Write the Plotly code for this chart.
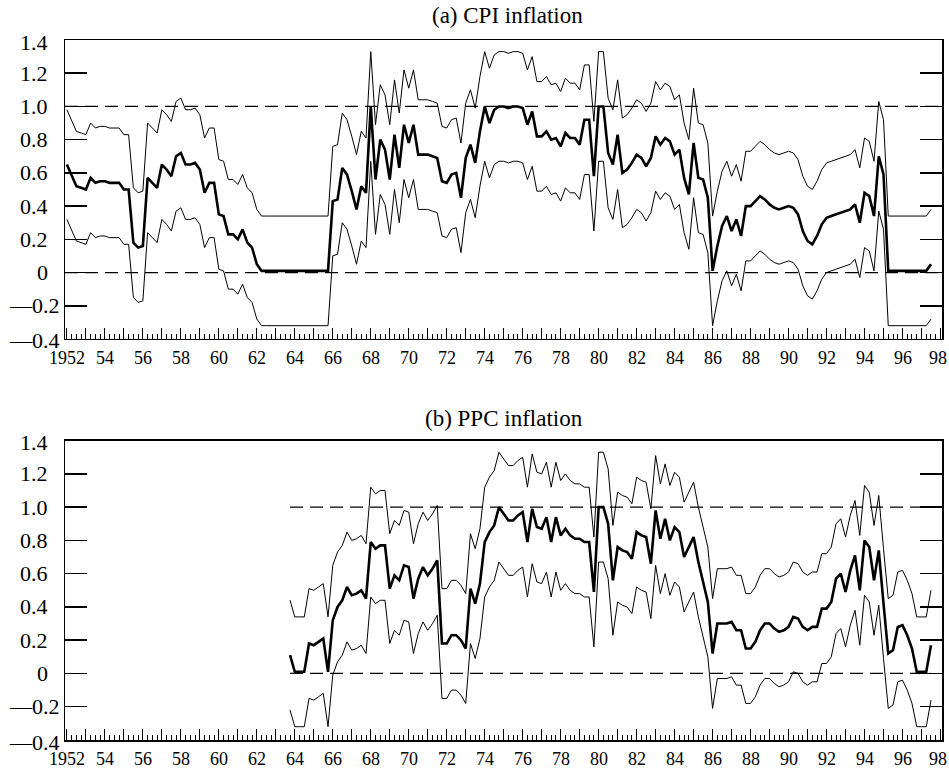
import plotly.graph_objects as go

# ---------------- data (quarterly) ----------------
top_start = 1952.0          # first quarter of panel (a)
bottom_start = 1963.75      # first quarter of panel (b)

top_mid = [
    0.65, 0.59, 0.52, 0.51, 0.50, 0.57, 0.54, 0.55, 0.55, 0.54,
    0.54, 0.54, 0.50, 0.50, 0.18, 0.15, 0.16, 0.57, 0.54, 0.51,
    0.65, 0.62, 0.58, 0.70, 0.72, 0.65, 0.65, 0.66, 0.62, 0.48,
    0.54, 0.54, 0.35, 0.34, 0.23, 0.23, 0.20, 0.26, 0.18, 0.15,
    0.05, 0.01, 0.01, 0.01, 0.01, 0.01, 0.01, 0.01, 0.01, 0.01,
    0.01, 0.01, 0.01, 0.01, 0.01, 0.01, 0.43, 0.44, 0.63, 0.59,
    0.49, 0.38, 0.52, 0.48, 1.00, 0.56, 0.80, 0.74, 0.56, 0.83,
    0.63, 0.89, 0.78, 0.89, 0.71, 0.71, 0.71, 0.70, 0.69, 0.55,
    0.54, 0.59, 0.60, 0.45, 0.69, 0.77, 0.66, 0.85, 1.00, 0.90,
    0.98, 1.00, 1.00, 0.99, 1.00, 1.00, 0.99, 0.89, 0.97, 0.82,
    0.82, 0.85, 0.80, 0.81, 0.76, 0.84, 0.81, 0.81, 0.77, 0.92,
    0.92, 0.58, 1.00, 1.00, 0.72, 0.65, 0.83, 0.60, 0.62, 0.66,
    0.71, 0.69, 0.64, 0.69, 0.82, 0.77, 0.81, 0.79, 0.71, 0.74,
    0.57, 0.47, 0.78, 0.57, 0.56, 0.45, 0.01, 0.16, 0.28, 0.34,
    0.25, 0.32, 0.22, 0.40, 0.40, 0.43, 0.46, 0.44, 0.41, 0.39,
    0.38, 0.39, 0.40, 0.39, 0.35, 0.25, 0.19, 0.17, 0.22, 0.29,
    0.33, 0.34, 0.35, 0.36, 0.37, 0.38, 0.41, 0.30, 0.48, 0.46,
    0.34, 0.70, 0.59, 0.01, 0.01, 0.01, 0.01, 0.01, 0.01, 0.01,
    0.01, 0.01, 0.05,
]

top_upper = [
    0.98, 0.92, 0.85, 0.84, 0.83, 0.90, 0.87, 0.88, 0.88, 0.87,
    0.87, 0.87, 0.83, 0.83, 0.51, 0.48, 0.49, 0.90, 0.87, 0.84,
    0.98, 0.95, 0.91, 1.03, 1.05, 0.98, 0.98, 0.99, 0.95, 0.81,
    0.87, 0.87, 0.68, 0.67, 0.56, 0.56, 0.53, 0.59, 0.51, 0.48,
    0.38, 0.34, 0.34, 0.34, 0.34, 0.34, 0.34, 0.34, 0.34, 0.34,
    0.34, 0.34, 0.34, 0.34, 0.34, 0.34, 0.76, 0.77, 0.96, 0.92,
    0.82, 0.71, 0.85, 0.81, 1.33, 0.89, 1.13, 1.07, 0.89, 1.16,
    0.96, 1.22, 1.11, 1.22, 1.04, 1.04, 1.04, 1.03, 1.02, 0.88,
    0.87, 0.92, 0.93, 0.78, 1.02, 1.10, 0.99, 1.18, 1.33, 1.23,
    1.31, 1.33, 1.33, 1.32, 1.33, 1.33, 1.32, 1.22, 1.30, 1.15,
    1.15, 1.18, 1.13, 1.14, 1.09, 1.17, 1.14, 1.14, 1.10, 1.25,
    1.25, 0.91, 1.33, 1.33, 1.05, 0.98, 1.16, 0.93, 0.95, 0.99,
    1.04, 1.02, 0.97, 1.02, 1.15, 1.10, 1.14, 1.12, 1.04, 1.07,
    0.90, 0.80, 1.11, 0.90, 0.89, 0.78, 0.34, 0.49, 0.61, 0.67,
    0.58, 0.65, 0.55, 0.73, 0.73, 0.76, 0.79, 0.77, 0.74, 0.72,
    0.71, 0.72, 0.73, 0.72, 0.68, 0.58, 0.52, 0.50, 0.55, 0.62,
    0.66, 0.67, 0.68, 0.69, 0.70, 0.71, 0.74, 0.63, 0.81, 0.79,
    0.67, 1.03, 0.92, 0.34, 0.34, 0.34, 0.34, 0.34, 0.34, 0.34,
    0.34, 0.34, 0.38,
]

top_lower = [
    0.32, 0.26, 0.19, 0.18, 0.17, 0.24, 0.21, 0.22, 0.22, 0.21,
    0.21, 0.21, 0.17, 0.17, -0.15, -0.18, -0.17, 0.24, 0.21, 0.18,
    0.32, 0.29, 0.25, 0.37, 0.39, 0.32, 0.32, 0.33, 0.29, 0.15,
    0.21, 0.21, 0.02, 0.01, -0.10, -0.10, -0.13, -0.07, -0.15, -0.18,
    -0.28, -0.32, -0.32, -0.32, -0.32, -0.32, -0.32, -0.32, -0.32, -0.32,
    -0.32, -0.32, -0.32, -0.32, -0.32, -0.32, 0.10, 0.11, 0.30, 0.26,
    0.16, 0.05, 0.19, 0.15, 0.67, 0.23, 0.47, 0.41, 0.23, 0.50,
    0.30, 0.56, 0.45, 0.56, 0.38, 0.38, 0.38, 0.37, 0.36, 0.22,
    0.21, 0.26, 0.27, 0.12, 0.36, 0.44, 0.33, 0.52, 0.67, 0.57,
    0.65, 0.67, 0.67, 0.66, 0.67, 0.67, 0.66, 0.56, 0.64, 0.49,
    0.49, 0.52, 0.47, 0.48, 0.43, 0.51, 0.48, 0.48, 0.44, 0.59,
    0.59, 0.25, 0.67, 0.67, 0.39, 0.32, 0.50, 0.27, 0.29, 0.33,
    0.38, 0.36, 0.31, 0.36, 0.49, 0.44, 0.48, 0.46, 0.38, 0.41,
    0.24, 0.14, 0.45, 0.24, 0.23, 0.12, -0.32, -0.17, -0.05, 0.01,
    -0.08, -0.01, -0.11, 0.07, 0.07, 0.10, 0.13, 0.11, 0.08, 0.06,
    0.05, 0.06, 0.07, 0.06, 0.02, -0.08, -0.14, -0.16, -0.11, -0.04,
    0.00, 0.01, 0.02, 0.03, 0.04, 0.05, 0.08, -0.03, 0.15, 0.13,
    0.01, 0.37, 0.26, -0.32, -0.32, -0.32, -0.32, -0.32, -0.32, -0.32,
    -0.32, -0.32, -0.28,
]

bottom_mid = [
    0.11, 0.01, 0.01, 0.01, 0.18, 0.17, 0.19, 0.21, 0.01, 0.32,
    0.40, 0.44, 0.52, 0.47, 0.48, 0.50, 0.45, 0.79, 0.75, 0.77,
    0.77, 0.51, 0.59, 0.56, 0.65, 0.64, 0.45, 0.57, 0.64, 0.59,
    0.63, 0.68, 0.18, 0.18, 0.23, 0.23, 0.20, 0.15, 0.51, 0.42,
    0.54, 0.79, 0.85, 0.89, 1.00, 0.96, 0.92, 0.92, 0.95, 0.97,
    0.79, 0.99, 0.88, 0.87, 0.94, 0.79, 0.94, 0.83, 0.87, 0.83,
    0.81, 0.81, 0.79, 0.79, 0.49, 1.00, 1.00, 0.90, 0.56, 0.76,
    0.74, 0.73, 0.69, 0.85, 0.83, 0.82, 0.66, 0.98, 0.81, 0.93,
    0.80, 0.88, 0.85, 0.70, 0.76, 0.82, 0.67, 0.55, 0.43, 0.12,
    0.30, 0.30, 0.30, 0.31, 0.26, 0.26, 0.15, 0.15, 0.19, 0.26,
    0.30, 0.30, 0.27, 0.25, 0.26, 0.28, 0.34, 0.33, 0.28, 0.26,
    0.28, 0.28, 0.39, 0.39, 0.43, 0.57, 0.60, 0.49, 0.62, 0.71,
    0.50, 0.80, 0.76, 0.56, 0.74, 0.42, 0.12, 0.14, 0.28, 0.29,
    0.23, 0.15, 0.01, 0.01, 0.01, 0.17,
]

bottom_upper = [
    0.44, 0.34, 0.34, 0.34, 0.51, 0.50, 0.52, 0.54, 0.34, 0.65,
    0.73, 0.77, 0.85, 0.80, 0.81, 0.83, 0.78, 1.12, 1.08, 1.10,
    1.10, 0.84, 0.92, 0.89, 0.98, 0.97, 0.78, 0.90, 0.97, 0.92,
    0.96, 1.01, 0.51, 0.51, 0.56, 0.56, 0.53, 0.48, 0.84, 0.75,
    0.87, 1.12, 1.18, 1.22, 1.33, 1.29, 1.25, 1.25, 1.28, 1.30,
    1.12, 1.32, 1.21, 1.20, 1.27, 1.12, 1.27, 1.16, 1.20, 1.16,
    1.14, 1.14, 1.12, 1.12, 0.82, 1.33, 1.33, 1.23, 0.89, 1.09,
    1.07, 1.06, 1.02, 1.18, 1.16, 1.15, 0.99, 1.31, 1.14, 1.26,
    1.13, 1.21, 1.18, 1.03, 1.09, 1.15, 1.00, 0.88, 0.76, 0.45,
    0.63, 0.63, 0.63, 0.64, 0.59, 0.59, 0.48, 0.48, 0.52, 0.59,
    0.63, 0.63, 0.60, 0.58, 0.59, 0.61, 0.67, 0.66, 0.61, 0.59,
    0.61, 0.61, 0.72, 0.72, 0.76, 0.90, 0.93, 0.82, 0.95, 1.04,
    0.83, 1.13, 1.09, 0.89, 1.07, 0.75, 0.45, 0.47, 0.61, 0.62,
    0.56, 0.48, 0.34, 0.34, 0.34, 0.50,
]

bottom_lower = [
    -0.22, -0.32, -0.32, -0.32, -0.15, -0.16, -0.14, -0.12, -0.32, -0.01,
    0.07, 0.11, 0.19, 0.14, 0.15, 0.17, 0.12, 0.46, 0.42, 0.44,
    0.44, 0.18, 0.26, 0.23, 0.32, 0.31, 0.12, 0.24, 0.31, 0.26,
    0.30, 0.35, -0.15, -0.15, -0.10, -0.10, -0.13, -0.18, 0.18, 0.09,
    0.21, 0.46, 0.52, 0.56, 0.67, 0.63, 0.59, 0.59, 0.62, 0.64,
    0.46, 0.66, 0.55, 0.54, 0.61, 0.46, 0.61, 0.50, 0.54, 0.50,
    0.48, 0.48, 0.46, 0.46, 0.16, 0.67, 0.67, 0.57, 0.23, 0.43,
    0.41, 0.40, 0.36, 0.52, 0.50, 0.49, 0.33, 0.65, 0.48, 0.60,
    0.47, 0.55, 0.52, 0.37, 0.43, 0.49, 0.34, 0.22, 0.10, -0.21,
    -0.03, -0.03, -0.03, -0.02, -0.07, -0.07, -0.18, -0.18, -0.14, -0.07,
    -0.03, -0.03, -0.06, -0.08, -0.07, -0.05, 0.01, 0.00, -0.05, -0.07,
    -0.05, -0.05, 0.06, 0.06, 0.10, 0.24, 0.27, 0.16, 0.29, 0.38,
    0.17, 0.47, 0.43, 0.23, 0.41, 0.09, -0.21, -0.19, -0.05, -0.04,
    -0.10, -0.18, -0.32, -0.32, -0.32, -0.16,
]

ref_levels = [0.0, 1.0]
titles = ["(a) CPI inflation", "(b) PPC inflation"]
year_ticks = list(range(1952, 1999))
label_years = list(range(1952, 1999, 2))
label_texts = ["1952" if y == 1952 else f"{y % 100:02d}" for y in label_years]
y_ticks = [-0.4, -0.2, 0, 0.2, 0.4, 0.6, 0.8, 1.0, 1.2, 1.4]
y_labels = ["\u20140.4", "\u20140.2", "0", "0.2", "0.4", "0.6", "0.8", "1.0", "1.2", "1.4"]
x_range = [1951.9, 1998.08]

top_x = [top_start + i / 4 for i in range(len(top_mid))]
bottom_x = [bottom_start + i / 4 for i in range(len(bottom_mid))]

FONT = "Liberation Serif"
fig = go.Figure()

panels = [
    (top_x, top_mid, top_upper, top_lower, "x", "y", x_range),
    (bottom_x, bottom_mid, bottom_upper, bottom_lower, "x2", "y2", [bottom_x[0], bottom_x[-1]]),
]
for xs, mid, up, lo, xa, ya, ref_span in panels:
    for lvl in ref_levels:
        fig.add_trace(go.Scatter(x=ref_span, y=[lvl, lvl], mode="lines", xaxis=xa, yaxis=ya,
                                 line=dict(color="black", width=1.2, dash="13px,7px"),
                                 showlegend=False, hoverinfo="skip"))
    fig.add_trace(go.Scatter(x=xs, y=up, mode="lines", xaxis=xa, yaxis=ya,
                             line=dict(color="black", width=1), showlegend=False))
    fig.add_trace(go.Scatter(x=xs, y=lo, mode="lines", xaxis=xa, yaxis=ya,
                             line=dict(color="black", width=1), showlegend=False))
    fig.add_trace(go.Scatter(x=xs, y=mid, mode="lines", xaxis=xa, yaxis=ya,
                             line=dict(color="black", width=2.6), showlegend=False))

xcommon = dict(
    range=x_range, tickmode="array", tickvals=year_ticks,
    ticks="inside", ticklen=11, tickwidth=1, tickcolor="black",
    showline=True, linecolor="black", linewidth=1.5, mirror=True,
    showgrid=False, zeroline=False, showticklabels=False, automargin=False,
    minor=dict(ticks="inside", ticklen=5, tickwidth=1, tickcolor="black",
               tickmode="linear", tick0=1952, dtick=0.25, showgrid=False),
)
ycommon = dict(
    range=[-0.4, 1.4], tickmode="array", tickvals=y_ticks,
    ticks="inside", ticklen=22, tickwidth=1.5, tickcolor="black",
    showline=True, linecolor="black", linewidth=1.5, mirror="ticks",
    showgrid=False, zeroline=False, showticklabels=False, automargin=False,
)

annotations = [
    dict(text=titles[0], xref="paper", yref="paper", x=0.505, y=1.0343,
         xanchor="center", yanchor="middle", showarrow=False,
         font=dict(family=FONT, size=23, color="black")),
    dict(text=titles[1], xref="paper", yref="paper", x=0.5, y=0.4586,
         xanchor="center", yanchor="middle", showarrow=False,
         font=dict(family=FONT, size=23, color="black")),
]
# y tick labels (negative labels carry a long dash and sit a little further right)
for yref in ["y", "y2"]:
    for val, lab in zip(y_ticks, y_labels):
        neg = val < 0
        shift = -2 if val in (-0.4, 1.4) else 0
        annotations.append(dict(
            text=lab, xref="paper", yref=yref, x=(-0.0034 if neg else -0.0171), y=val,
            xanchor="right", yanchor="middle", showarrow=False, yshift=shift,
            font=dict(family=FONT, size=22, color="black")))
# x tick labels under each panel (every second year)
for xref, yref in [("x", "y"), ("x2", "y2")]:
    for yr, lab in zip(label_years, label_texts):
        annotations.append(dict(
            text=lab, xref=xref, yref=yref, x=yr, y=-0.4,
            xanchor="center", yanchor="top", showarrow=False,
            yshift=-7, xshift=(-2 if yr == 1998 else 0),
            font=dict(family=FONT, size=18, color="black")))

fig.update_layout(
    width=949, height=770,
    margin=dict(l=65, r=7, t=40, b=30, autoexpand=False),
    paper_bgcolor="white", plot_bgcolor="white",
    font=dict(family=FONT, color="black"),
    hovermode=False,
    xaxis=dict(domain=[0, 1], anchor="y", **xcommon),
    yaxis=dict(domain=[0.5729, 1.0], anchor="x", **ycommon),
    xaxis2=dict(domain=[0, 1], anchor="y2", **xcommon),
    yaxis2=dict(domain=[0.0, 0.4277], anchor="x2", **ycommon),
    annotations=annotations,
)

fig.write_html("out.html", config={"displayModeBar": False, "staticPlot": True},
               post_script="document.body.style.margin='0';")
